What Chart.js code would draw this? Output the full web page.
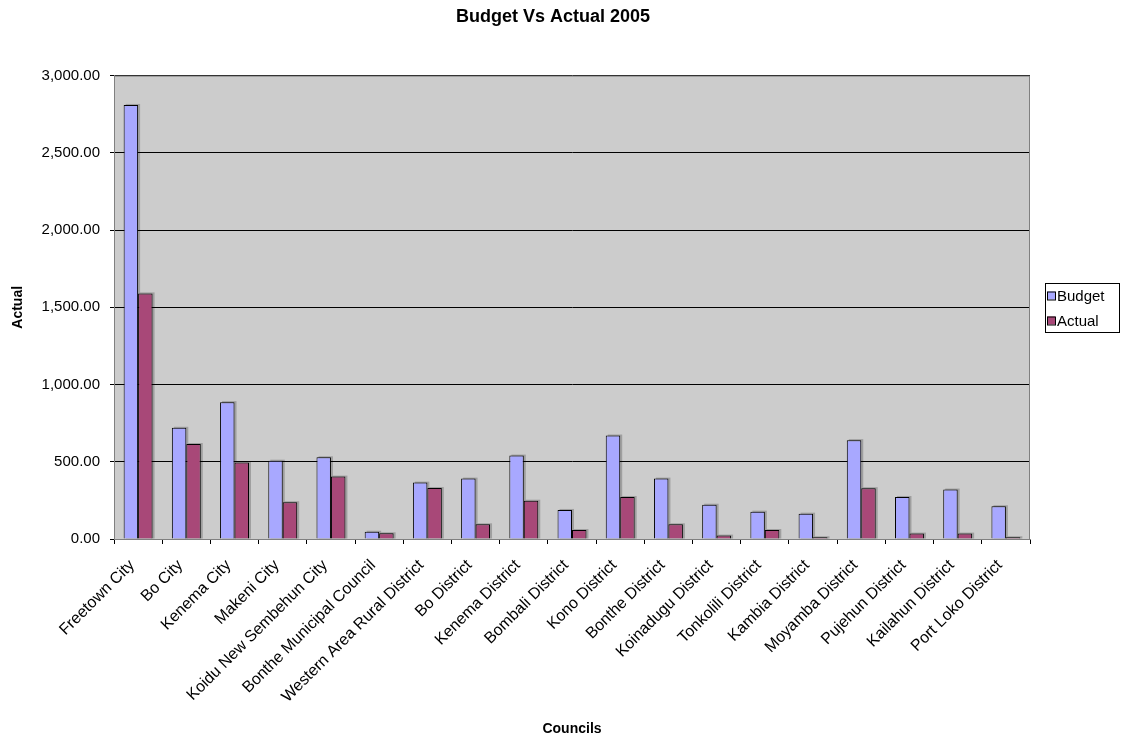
<!DOCTYPE html>
<html>
<head>
<meta charset="utf-8">
<script src="https://cdn.jsdelivr.net/npm/chart.js@4/dist/chart.umd.min.js"></script>
<style>
  html, body { margin: 0; padding: 0; background: #ffffff; }
  #wrap { width: 1122px; height: 740px; }
</style>
</head>
<body>
<div id="wrap"><canvas id="chart" width="1122" height="740"></canvas></div>
<script>
//DATA
const councils = [
  "Freetown City", "Bo City", "Kenema City", "Makeni City",
  "Koidu New Sembehun City", "Bonthe Municipal Council",
  "Western Area Rural District", "Bo District", "Kenema District",
  "Bombali District", "Kono District", "Bonthe District",
  "Koinadugu District", "Tonkolili District", "Kambia District",
  "Moyamba District", "Pujehun District", "Kailahun District",
  "Port Loko District"
];
const budget = [2810, 720, 886, 507, 529, 47, 365, 391, 540, 188, 670, 391, 222, 177, 164, 640, 272, 320, 212];
const actual = [1590, 615, 495, 238, 404, 37, 330, 95, 248, 58, 272, 95, 22, 58, 11, 329, 35, 35, 11];
const yTicks = [0, 500, 1000, 1500, 2000, 2500, 3000];

const FONT = "'Liberation Sans', Arial, sans-serif";

// grey plot background + border
const plotBg = {
  id: "plotBg",
  beforeDraw(chart) {
    const { ctx, chartArea: a } = chart;
    ctx.save();
    ctx.fillStyle = "#cccccc";
    ctx.fillRect(a.left, a.top, a.right - a.left, a.bottom - a.top);
    ctx.restore();
  },
  afterDraw(chart) {
    const { ctx, chartArea: a } = chart;
    ctx.save();
    ctx.strokeStyle = "#808080";
    ctx.lineWidth = 1;
    ctx.strokeRect(a.left + 0.5, a.top + 0.5, a.right - a.left - 1, a.bottom - a.top);
    ctx.restore();
  }
};

// legend drawn in a bordered box to the right of the plot
const boxLegend = {
  id: "boxLegend",
  afterDraw(chart) {
    const { ctx } = chart;
    const x = 1045, y = 283, w = 74, h = 49;
    ctx.save();
    ctx.fillStyle = "#ffffff";
    ctx.fillRect(x, y, w, h);
    ctx.strokeStyle = "#000000";
    ctx.lineWidth = 1;
    ctx.strokeRect(x + 0.5, y + 0.5, w, h);
    ctx.font = "15px " + FONT;
    ctx.textBaseline = "middle";
    chart.data.datasets.forEach((ds, i) => {
      const cy = y + 12.5 + i * 25;
      ctx.fillStyle = ds.backgroundColor;
      ctx.fillRect(x + 2, cy - 4, 8, 8);
      ctx.strokeStyle = "#000000";
      ctx.strokeRect(x + 2.5, cy - 3.5, 8, 8);
      ctx.fillStyle = "#000000";
      ctx.fillText(ds.label, x + 12, cy + 1);
    });
    ctx.restore();
  }
};

// bar shadow, slightly offset behind each bar
const barShadow = {
  id: "barShadow",
  beforeDatasetsDraw(chart) {
    const { ctx } = chart;
    ctx.save();
    ctx.fillStyle = "rgba(0,0,0,0.22)";
    chart.data.datasets.forEach((ds, i) => {
      chart.getDatasetMeta(i).data.forEach((bar) => {
        const w = bar.width;
        ctx.fillRect(bar.x - w / 2 + 2, bar.y - 1, w, bar.base - bar.y + 1);
      });
    });
    ctx.restore();
  }
};

const chart = new Chart(document.getElementById("chart"), {
  type: "bar",
  data: {
    labels: councils,
    datasets: [
      {
        label: "Budget",
        data: budget,
        backgroundColor: "#a8a8ff",
        borderColor: "#000000",
        borderWidth: 1,
        categoryPercentage: 0.6,
        barPercentage: 1.0
      },
      {
        label: "Actual",
        data: actual,
        backgroundColor: "#a84878",
        borderColor: "#000000",
        borderWidth: 1,
        categoryPercentage: 0.6,
        barPercentage: 1.0
      }
    ]
  },
  options: {
    responsive: false,
    animation: false,
    layout: { padding: { left: 0, right: 16, top: 0, bottom: 0 } },
    plugins: {
      legend: { display: false },
      tooltip: { enabled: false },
      title: {
        display: true,
        text: "Budget Vs Actual 2005",
        color: "#000000",
        font: { family: FONT, size: 18, weight: "bold" },
        padding: { top: 6, bottom: 48 }
      }
    },
    scales: {
      x: {
        afterFit(scale) { scale.height = 201; },
        grid: {
          offset: true,
          drawOnChartArea: false,
          tickLength: 5,
          color: "#000000"
        },
        border: { display: true, color: "#808080" },
        ticks: {
          color: "#000000",
          font: { family: FONT, size: 16 },
          minRotation: 45,
          maxRotation: 45,
          autoSkip: false,
          padding: 12,
          labelOffset: -6
        },
        title: {
          display: true,
          text: "Councils",
          color: "#000000",
          font: { family: FONT, size: 14, weight: "bold" },
          padding: { top: 4, bottom: 2 }
        }
      },
      y: {
        min: yTicks[0],
        max: yTicks[yTicks.length - 1],
        afterFit(scale) { scale.width = 114; },
        afterBuildTicks(scale) { scale.ticks = yTicks.map((v) => ({ value: v })); },
        grid: { color: "#000000", tickLength: 4, lineWidth: 1 },
        border: { display: true, color: "#808080" },
        ticks: {
          color: "#000000",
          font: { family: FONT, size: 15 },
          padding: 10,
          callback: (v) => v.toLocaleString("en-US", { minimumFractionDigits: 2, maximumFractionDigits: 2 })
        },
        title: {
          display: true,
          text: "Actual",
          color: "#000000",
          font: { family: FONT, size: 14, weight: "bold" },
          padding: { top: 10, bottom: 0 }
        }
      },
      // empty right-hand axis that only reserves room for the legend box
      side: {
        position: "right",
        afterFit(scale) { scale.width = 76; },
        grid: { display: false },
        border: { display: false },
        ticks: { display: false }
      }
    }
  },
  plugins: [plotBg, barShadow, boxLegend]
});
</script>
</body>
</html>
